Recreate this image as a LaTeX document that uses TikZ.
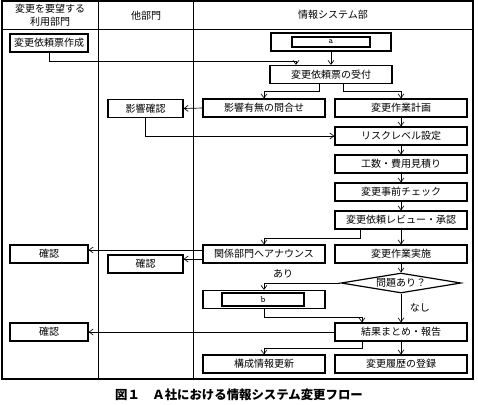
\documentclass[tikz,border=0pt]{standalone}
\usepackage{fontspec}
\setmainfont{Noto Sans CJK JP}
\usetikzlibrary{shapes.geometric,arrows.meta,calc}

\begin{document}
\begin{tikzpicture}[x=0.75pt,y=-0.75pt,
    font=\fontsize{7.5}{9.75}\selectfont,
    box/.style={draw, line width=0.9pt, inner sep=0pt, minimum height=13.5pt},
    userbox/.style={box, minimum width=58.5pt},
    otherbox/.style={box, minimum width=56.25pt},
    midbox/.style={box, minimum width=91.5pt},
    sysbox/.style={box, minimum width=99pt},
    arr/.style={-{Straight Barb[length=3pt,width=4.5pt]}, line width=0.5pt}]

\useasboundingbox (0,0) rectangle (478,404);

% ===== Table frame =====
\draw[line width=0.8pt] (2,1) rectangle (473,379);
\draw[line width=0.6pt] (2,29) -- (473,29);
\draw[line width=0.6pt] (98,1) -- (98,379);
\draw[line width=0.6pt] (193,1) -- (193,379);

% ===== Column headers =====
\node[align=center] (hUser) at (50,15) {変更を要望する\\利用部門};
\node (hOther) at (146,16) {他部門};
\node (hSys) at (333,15) {情報システム部};

% ===== Requesting department =====
\node[userbox] (request) at (49,43) {変更依頼票作成};
\node[userbox] (confirmA) at (49,254) {確認};
\node[userbox] (confirmC) at (49,332) {確認};

% ===== Other departments =====
\node[otherbox] (impactChk) at (145.5,108.5) {影響確認};
\node[otherbox] (confirmB) at (145.5,264) {確認};

% ===== Information systems =====
\node[box, minimum width=90pt] (aOuter) at (331,42) {};
\node[draw, line width=0.9pt, inner sep=0pt, minimum width=58.5pt,
      minimum height=7.5pt, font=\fontsize{6.5}{7}\ttfamily] (aIn) at (331,42) {a};
\node[midbox] (receive) at (331,74.5) {変更依頼票の受付};

\node[midbox] (inquiry) at (264,108) {影響有無の問合せ};
\node[midbox] (announce) at (264,254) {関係部門へアナウンス};
\node[midbox] (bOuter) at (264,299.5) {};
\node[draw, line width=0.9pt, inner sep=0pt, minimum width=61.5pt,
      minimum height=9.75pt, font=\fontsize{7}{8}\ttfamily] (bIn) at (263,299.5) {b};
\node[midbox] (config) at (264,364) {構成情報更新};

\node[sysbox] (plan) at (401,108) {変更作業計画};
\node[sysbox] (risk) at (401,136) {リスクレベル設定};
\node[sysbox] (estimate) at (401,164) {工数・費用見積り};
\node[sysbox] (precheck) at (401,192) {変更事前チェック};
\node[sysbox] (review) at (401,220) {変更依頼レビュー・承認};
\node[sysbox] (execute) at (401,254) {変更作業実施};
\node[draw, diamond, aspect=6, line width=0.9pt, inner sep=0pt,
      minimum width=90pt, minimum height=15pt] (issue) at (401,283) {問題あり？};
\node[sysbox] (report) at (401,332) {結果まとめ・報告};
\node[sysbox] (history) at (401,364) {変更履歴の登録};

% ===== Arrows =====
\draw[arr] (request.south) -- ++(0,9) -| ($(receive.north)+(-35,0)$);
\draw[arr] (aOuter.south) -- (receive.north);
\draw[arr] ($(receive.south)+(-12,0)$) -- ++(0,7) -| (inquiry.north);
\draw[arr] ($(receive.south)+(12,0)$) -- ++(0,7) -| (plan.north);
\draw[arr] (inquiry.west) -- (impactChk.east);
\draw[arr] (impactChk.south) |- (risk.west);
\draw[arr] (plan) -- (risk);
\draw[arr] (risk) -- (estimate);
\draw[arr] (estimate) -- (precheck);
\draw[arr] (precheck) -- (review);
\draw[arr] ($(review.south)+(-41,0)$) -- ++(0,9) -| (announce.north);
\draw[arr] (review) -- (execute);

\coordinate (annA) at ($(announce.west)+(0,-4)$);
\coordinate (annB) at ($(announce.west)+(0,5)$);
\draw[arr] (annA) -- (confirmA.east |- annA);
\draw[arr] (annB) -- (confirmB.east |- annB);

\draw[arr] (execute) -- (issue);
\draw[arr] (issue.west) -| node[pos=0.375, above] {あり} (bOuter.north);
\draw[arr] (issue.south) -- node[midway, right=3pt] {なし} (report.north);
\draw[arr] (bOuter.south) -- ++(0,8) -| ($(report.north)+(-39,0)$);
\draw[arr] (report.west) -- (confirmC.east);
\draw[arr] ($(report.south)+(-39,0)$) -- ++(0,7) -| (config.north);
\draw[arr] (report) -- (history);

% ===== Caption =====
\node[font=\fontsize{9.3}{11}\selectfont\bfseries] (caption) at (239,395)
    {図１　Ａ社における情報システム変更フロー};

\end{tikzpicture}
\end{document}
